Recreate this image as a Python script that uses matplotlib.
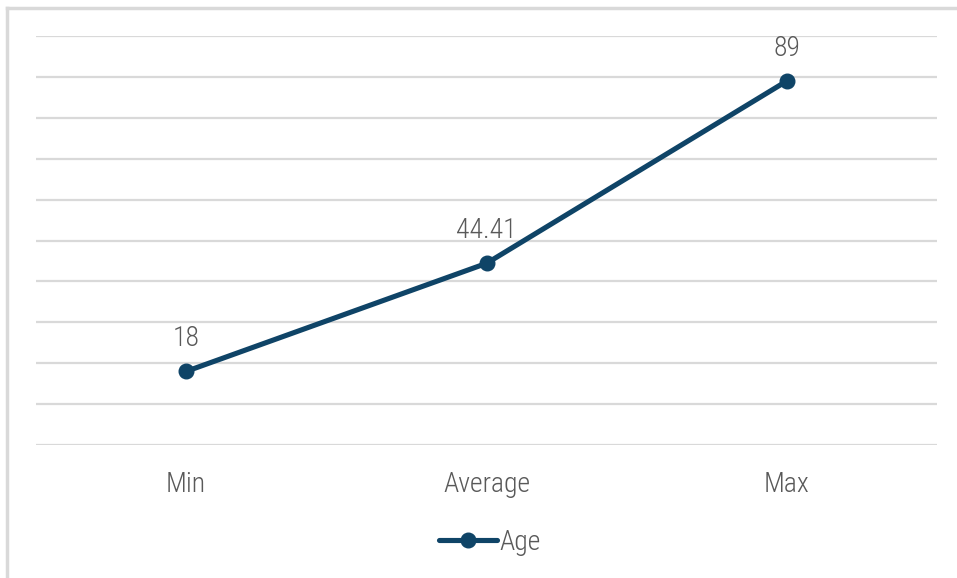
import matplotlib
matplotlib.use("Agg")
import matplotlib.pyplot as plt
from matplotlib import font_manager
from matplotlib.lines import Line2D

categories = ["Min", "Average", "Max"]
age_values = [18, 44.41, 89]
value_labels = ["18", "44.41", "89"]
series_name = "Age"

# condensed look if available
names = set(f.name for f in font_manager.fontManager.ttflist)
fam = "Roboto"
for cand in ["Roboto Condensed", "Liberation Sans Narrow", "Roboto"]:
    if cand in names:
        fam = cand
        break
plt.rcParams["font.family"] = [fam, "DejaVu Sans"]
plt.rcParams["font.weight"] = "light"

line_col = "#0f4467"
text_col = "#595959"
grid_col = "#d9d9d9"
fs = 20

W, H = 957, 578
fig = plt.figure(figsize=(W / 100, H / 100), dpi=100)
ax = fig.add_axes([36 / W, 1 - 445 / H, (937 - 36) / W, (445 - 36) / H])

x = list(range(len(categories)))
ax.plot(x, age_values, color=line_col, lw=3.7, marker="o", ms=10.5,
        solid_capstyle="round", zorder=3)

for xi, v, lab in zip(x, age_values, value_labels):
    ax.annotate(lab, (xi, v), xytext=(0, 14), textcoords="offset points",
                ha="center", va="bottom", fontsize=fs, color=text_col)

ax.set_xlim(-0.5, 2.5)
ax.set_ylim(0, 100)
ax.set_yticks(range(0, 101, 10))
ax.yaxis.grid(True, color=grid_col, lw=1.6)
ax.set_axisbelow(True)
ax.tick_params(axis="y", left=False, labelleft=False)
ax.tick_params(axis="x", bottom=False, labelsize=fs, labelcolor=text_col, pad=15)
ax.set_xticks(x)
ax.set_xticklabels(categories)
for s in ax.spines.values():
    s.set_visible(False)

handle = Line2D([], [], color=line_col, lw=3.7, marker="o", ms=10.5,
                solid_capstyle="round")
fig.legend([handle], [series_name], loc="center", bbox_to_anchor=(490 / W, 1 - 542 / H),
           frameon=False, fontsize=fs, labelcolor=text_col, handlelength=2.1,
           handletextpad=0.1)

# partial outer frame (left & top)
fig.add_artist(Line2D([7 / W, 7 / W], [0, 1 - 8 / H], transform=fig.transFigure,
                      color="#d9d9d9", lw=2.5))
fig.add_artist(Line2D([7 / W, 1], [1 - 8 / H, 1 - 8 / H], transform=fig.transFigure,
                      color="#d9d9d9", lw=2.5))

fig.savefig("out.png", dpi=100)
